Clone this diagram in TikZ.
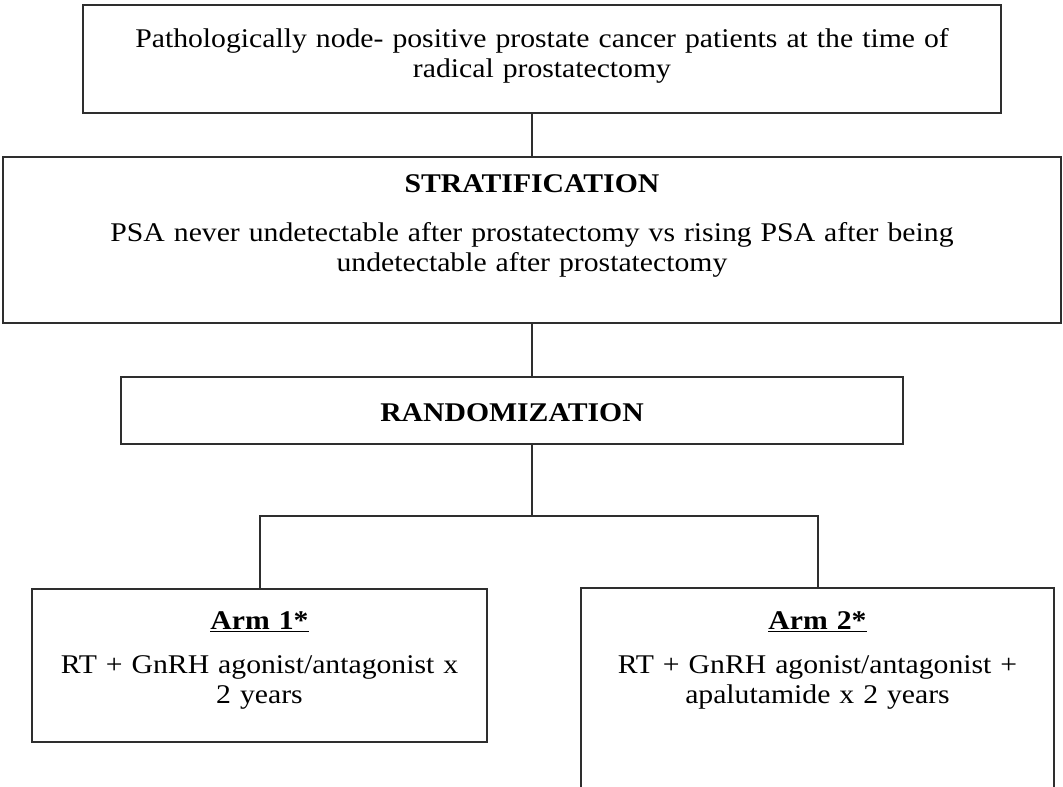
\documentclass[tikz,border=0pt]{standalone}
\usepackage{fontspec}
\setmainfont{Liberation Serif}[FakeStretch=1.1]
\usepackage{tikz}

\begin{document}
\begin{tikzpicture}[
  x=0.5pt, y=-0.5pt,
  font=\fontsize{13.5}{15}\selectfont,
  box/.style={rectangle, draw=frameGray, line width=1pt, align=center,
    inner sep=0pt, anchor=north},
  link/.style={draw=frameGray, line width=1pt},
]
\definecolor{frameGray}{HTML}{2E2E2E}
\useasboundingbox (0,0) rectangle (1063,786);

% Study population, then stratification and randomization below it.
\node[box, text width=459pt, text height=21.5pt, text depth=32.5pt]
  (cohort) at (542,4) {Pathologically node- positive prostate cancer patients at the time of\\
    radical prostatectomy};
\node[box, text width=529pt, text height=17.5pt, text depth=65.5pt]
  (strat) at (532,156) {\textbf{STRATIFICATION}\\[9.5pt]
    PSA never undetectable after prostatectomy vs rising PSA after being\\
    undetectable after prostatectomy};
\node[box, text width=391pt, text height=22pt, text depth=11.5pt]
  (rand) at (512,376) {\textbf{RANDOMIZATION}};

% The two treatment arms; the right box runs past the lower edge.
\node[box, text width=227.5pt, text height=20pt, text depth=56.5pt]
  (arm1) at (259.5,588) {\underline{\textbf{Arm 1*}}\\[7pt]
    RT + GnRH agonist/antagonist x\\ 2 years};
\node[box, text width=236.5pt, text height=20.5pt, text depth=101pt]
  (arm2) at (817.5,587) {\underline{\textbf{Arm 2*}}\\[7pt]
    RT + GnRH agonist/antagonist +\\ apalutamide x 2 years};

\draw[link] (strat.north) -- (strat.north |- cohort.south);
\draw[link] (strat.south) -- (strat.south |- rand.north);
\coordinate (split) at (532,516);
\draw[link] (strat.south |- rand.south) -- (split);
\draw[link] (arm1.north) |- (split) -| (arm2.north);
\end{tikzpicture}
\end{document}
